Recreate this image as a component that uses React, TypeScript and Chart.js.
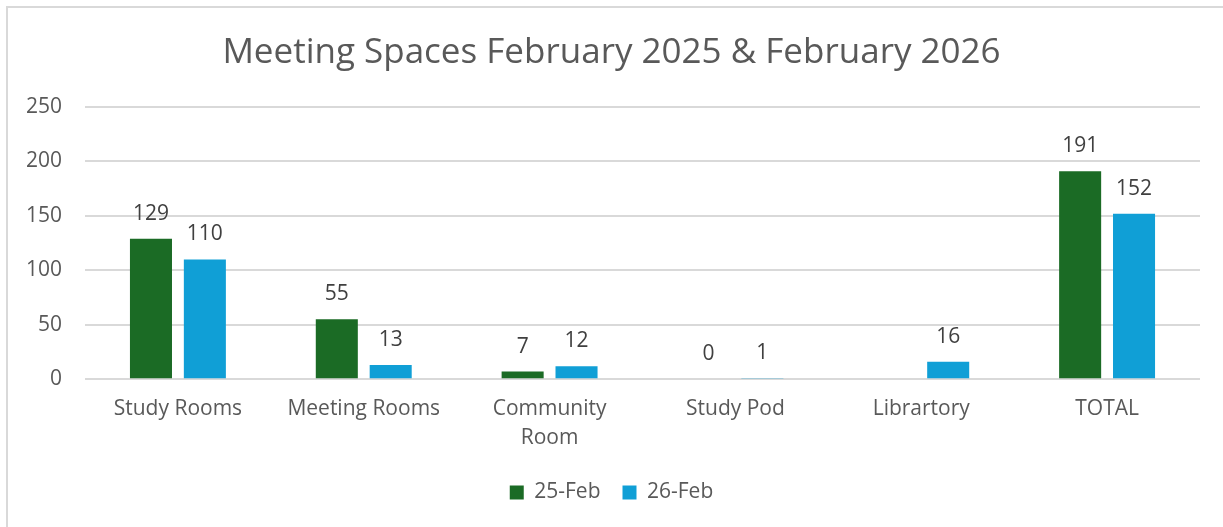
import React, { useEffect, useRef } from "react";
import { Chart, registerables } from "chart.js";

Chart.register(...registerables);

const categories: (string | string[])[] = [
  "Study Rooms",
  "Meeting Rooms",
  ["Community", "Room"],
  "Study Pod",
  "Librartory",
  "TOTAL",
];
const feb25: (number | null)[] = [129, 55, 7, 0, null, 191];
const feb26: (number | null)[] = [110, 13, 12, 1, 16, 152];
const seriesNames = ["25-Feb", "26-Feb"];
const titleText = "Meeting Spaces February 2025 & February 2026";

const FONT = "'Open Sans', 'Noto Sans', sans-serif";
const TEXT = "#595959";

const valueLabels = {
  id: "valueLabels",
  afterDatasetsDraw(chart: any) {
    const ctx = chart.ctx;
    ctx.save();
    ctx.font = `21px ${FONT}`;
    ctx.fillStyle = "#404040";
    ctx.textAlign = "center";
    ctx.textBaseline = "middle";
    chart.data.datasets.forEach((ds: any, i: number) => {
      const meta = chart.getDatasetMeta(i);
      meta.data.forEach((bar: any, j: number) => {
        const v = ds.data[j];
        if (v === null || v === undefined) return;
        ctx.fillText(String(v), bar.x, bar.y - 25);
      });
    });
    ctx.restore();
  },
};

export default function App() {
  const ref = useRef<HTMLCanvasElement | null>(null);
  useEffect(() => {
    if (!ref.current) return;
    const chart = new Chart(ref.current, {
      type: "bar",
      data: {
        labels: categories,
        datasets: [
          {
            label: seriesNames[0],
            data: feb25,
            backgroundColor: "#1b6b25",
            borderWidth: 0,
          },
          {
            label: seriesNames[1],
            data: feb26,
            backgroundColor: "#109fd6",
            borderWidth: 0,
          },
        ],
      },
      options: {
        animation: false,
        responsive: false,
        maintainAspectRatio: false,
        datasets: {
          bar: { categoryPercentage: 0.58, barPercentage: 0.78 },
        },
        layout: { padding: { left: 23, right: 23, top: 32, bottom: 14 } },
        plugins: {
          title: {
            display: true,
            text: titleText,
            color: TEXT,
            font: { family: FONT, size: 35, weight: "normal", lineHeight: 1.2 },
            padding: { top: 0, bottom: 33 },
          },
          legend: {
            position: "bottom",
            labels: {
              color: TEXT,
              font: { family: FONT, size: 21 },
              boxWidth: 14,
              boxHeight: 14,
              padding: 22,
            },
          },
          tooltip: { enabled: false },
        },
        scales: {
          x: {
            grid: { display: false, drawTicks: false },
            border: { display: false },
            ticks: {
              color: TEXT,
              font: { family: FONT, size: 21, lineHeight: 1.4 },
              padding: 15,
              maxRotation: 0,
              autoSkip: false,
            },
            afterFit: (scale: any) => {
              scale.height -= 8;
            },
          },
          y: {
            min: 0,
            max: 250,
            grid: { color: "#d9d9d9", lineWidth: 2, drawTicks: false },
            border: { display: false },
            ticks: {
              stepSize: 50,
              color: TEXT,
              font: { family: FONT, size: 21 },
              padding: 23,
            },
            afterFit: (scale: any) => {
              scale.width = 62;
            },
          },
        },
      },
      plugins: [valueLabels],
    });
    return () => chart.destroy();
  }, []);

  return (
    <div style={{ position: "absolute", left: 0, top: 0, width: 1223, height: 527, background: "#fff" }}>
      <div
        style={{
          position: "absolute",
          left: 6,
          top: 6,
          width: 1240,
          height: 560,
          borderTop: "2px solid #d9d9d9",
          borderLeft: "2px solid #d9d9d9",
        }}
      />
      <canvas ref={ref} width={1223} height={527} style={{ position: "absolute", left: 0, top: 0 }} />
    </div>
  );
}
